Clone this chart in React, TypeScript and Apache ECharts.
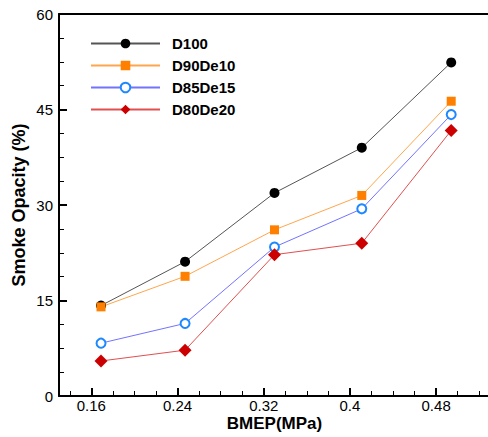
import React, { useEffect, useRef } from "react";
import * as echarts from "echarts";

const bmep = [0.169, 0.247, 0.33, 0.411, 0.494];
const d100 = [14.2, 21.1, 31.9, 39.0, 52.4];
const d90de10 = [14.0, 18.8, 26.1, 31.5, 46.3];
const d85de15 = [8.3, 11.4, 23.4, 29.4, 44.2];
const d80de20 = [5.5, 7.2, 22.2, 24.0, 41.7];
const seriesNames = ["D100", "D90De10", "D85De15", "D80De20"];
const xMajorTicks = [0.16, 0.24, 0.32, 0.4, 0.48];
const xMinorTicks = [0.14, 0.18, 0.2, 0.22, 0.26, 0.28, 0.3, 0.34, 0.36, 0.38, 0.42, 0.44, 0.46, 0.5, 0.52];

const FONT = "Liberation Sans, Arial, sans-serif";

function pairs(ys: number[]) {
  return bmep.map((x, i) => [x, ys[i]]);
}

export default function App() {
  const ref = useRef<HTMLDivElement>(null);
  useEffect(() => {
    if (!ref.current) return;
    const chart = echarts.init(ref.current, null, { renderer: "svg" });
    const axisLine = { show: true, lineStyle: { color: "#000", width: 2 } };
    chart.setOption({
      animation: false,
      backgroundColor: "#fff",
      textStyle: { fontFamily: FONT },
      grid: { left: 59, top: 14, bottom: 41, right: -2, containLabel: false, outerBoundsMode: "none" },
      legend: {
        data: seriesNames,
        orient: "vertical",
        left: 85,
        top: 31,
        itemWidth: 69,
        itemHeight: 12,
        itemGap: 7,
        textStyle: { fontFamily: FONT, fontSize: 15, fontWeight: "bold", color: "#000", padding: [0, 0, 0, 7] },
      },
      xAxis: [
        {
          type: "value",
          min: 0.13,
          max: 0.53,
          position: "bottom",
          axisLine,
          splitLine: { show: false },
          axisTick: { show: true, inside: true, length: 8, customValues: xMajorTicks, lineStyle: { color: "#000", width: 2 } },
          axisLabel: { customValues: xMajorTicks, color: "#000", fontSize: 15, lineHeight: 12, fontFamily: FONT, margin: 3 },
          name: "BMEP(MPa)",
          nameLocation: "middle",
          nameGap: 19,
          nameMoveOverlap: false,
          nameTextStyle: { fontFamily: FONT, fontSize: 17, lineHeight: 16, fontWeight: "bold", color: "#000" },
        },
        {
          type: "value",
          min: 0.13,
          max: 0.53,
          position: "bottom",
          axisLine: { show: false },
          splitLine: { show: false },
          axisTick: { show: true, inside: true, length: 5, customValues: xMinorTicks, lineStyle: { color: "#000", width: 1 } },
          axisLabel: { show: false },
        },
        {
          type: "value",
          min: 0.13,
          max: 0.53,
          position: "top",
          axisLine,
          splitLine: { show: false },
          axisTick: { show: false },
          axisLabel: { show: false },
        },
      ],
      yAxis: {
        type: "value",
        min: 0,
        max: 60,
        interval: 15,
        axisLine,
        splitLine: { show: false },
        axisTick: { show: true, inside: true, length: 8, lineStyle: { color: "#000", width: 2 } },
        minorTick: { show: true, splitNumber: 4, length: 5, lineStyle: { color: "#000", width: 1 } },
        axisLabel: { color: "#000", fontSize: 15, fontFamily: FONT, margin: 6 },
        name: "Smoke Opacity (%)",
        nameLocation: "middle",
        nameGap: 31,
        nameMoveOverlap: false,
        nameTextStyle: { fontFamily: FONT, fontSize: 18, fontWeight: "bold", color: "#000" },
      },
      series: [
        {
          name: seriesNames[0],
          type: "line",
          data: pairs(d100),
          symbol: "circle",
          symbolSize: 10,
          itemStyle: { color: "#000" },
          lineStyle: { color: "#555", width: 1 },
        },
        {
          name: seriesNames[1],
          type: "line",
          data: pairs(d90de10),
          symbol: "rect",
          symbolSize: 9,
          itemStyle: { color: "#FF8000" },
          lineStyle: { color: "#FFA64D", width: 1 },
        },
        {
          name: seriesNames[2],
          type: "line",
          data: pairs(d85de15),
          symbol: "emptyCircle",
          symbolSize: 9,
          itemStyle: { color: "#1E88FF", borderColor: "#1E88FF", borderWidth: 2 },
          lineStyle: { color: "#7373FF", width: 1 },
        },
        {
          name: seriesNames[3],
          type: "line",
          data: pairs(d80de20),
          symbol: "diamond",
          symbolSize: 13,
          itemStyle: { color: "#CC0000" },
          lineStyle: { color: "#E05050", width: 1 },
        },
      ],
    });
    return () => chart.dispose();
  }, []);
  return (
    <div
      ref={ref}
      style={{ position: "fixed", left: 0, top: 0, width: 488, height: 437, overflow: "hidden" }}
    />
  );
}
